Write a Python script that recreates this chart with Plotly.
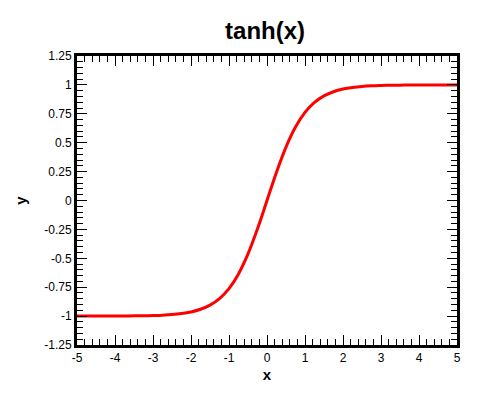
import plotly.graph_objects as go

x_vals = [-5, -4.75, -4.5, -4.25, -4, -3.75, -3.5, -3.25, -3, -2.75, -2.5, -2.25, -2, -1.75, -1.5, -1.25, -1, -0.75, -0.5, -0.25,
          0, 0.25, 0.5, 0.75, 1, 1.25, 1.5, 1.75, 2, 2.25, 2.5, 2.75, 3, 3.25, 3.5, 3.75, 4, 4.25, 4.5, 4.75, 5]
y_vals = [-1.0, -1.0, -1.0, -1.0, -0.999, -0.999, -0.998, -0.997, -0.995, -0.992, -0.987, -0.978, -0.964, -0.941, -0.905, -0.848, -0.762, -0.635, -0.462, -0.245,
          0.0, 0.245, 0.462, 0.635, 0.762, 0.848, 0.905, 0.941, 0.964, 0.978, 0.987, 0.992, 0.995, 0.997, 0.998, 0.999, 0.999, 1.0, 1.0, 1.0, 1.0]

x_ticks = [-5, -4, -3, -2, -1, 0, 1, 2, 3, 4, 5]
y_ticks = [-1.25, -1, -0.75, -0.5, -0.25, 0, 0.25, 0.5, 0.75, 1, 1.25]
y_tick_text = ["-1.25", "-1", "-0.75", "-0.5", "-0.25", "0", "0.25", "0.5", "0.75", "1", "1.25"]

fig = go.Figure()
fig.add_trace(go.Scatter(x=x_vals, y=y_vals, mode="lines", line=dict(color="#ff0000", width=3, shape="spline"),
                         showlegend=False))

axis_common = dict(showline=True, linecolor="black", linewidth=3, mirror="ticks", ticks="inside",
                   tickcolor="black", tickwidth=1, ticklen=10, showgrid=False, zeroline=False,
                   tickfont=dict(family="Arial, Liberation Sans", size=12, color="black"))

fig.update_xaxes(range=[-5, 5], tickvals=x_ticks, ticktext=[str(v) for v in x_ticks],
                 minor=dict(ticks="inside", ticklen=6, tickcolor="black", tickwidth=1, dtick=0.2, tick0=-5),
                 title=dict(text="<b>x</b>", font=dict(family="Arial, Liberation Sans", size=15, color="black"), standoff=6),
                 **axis_common)
fig.update_yaxes(range=[-1.25, 1.25], tickvals=y_ticks, ticktext=y_tick_text,
                 minor=dict(ticks="inside", ticklen=6, tickcolor="black", tickwidth=1, dtick=0.05, tick0=-1.25),
                 title=dict(text="<b>y</b>", font=dict(family="Arial, Liberation Sans", size=15, color="black"), standoff=14),
                 **axis_common)

fig.update_layout(
    width=470, height=391,
    margin=dict(l=65, r=21, t=48, b=54),
    paper_bgcolor="white", plot_bgcolor="white",
    title=dict(text="<b>tanh(x)</b>", x=0.547, xanchor="center", y=0.943, yanchor="middle",
               font=dict(family="Arial, Liberation Sans", size=24, color="black")),
)

fig.write_html("out.html")
